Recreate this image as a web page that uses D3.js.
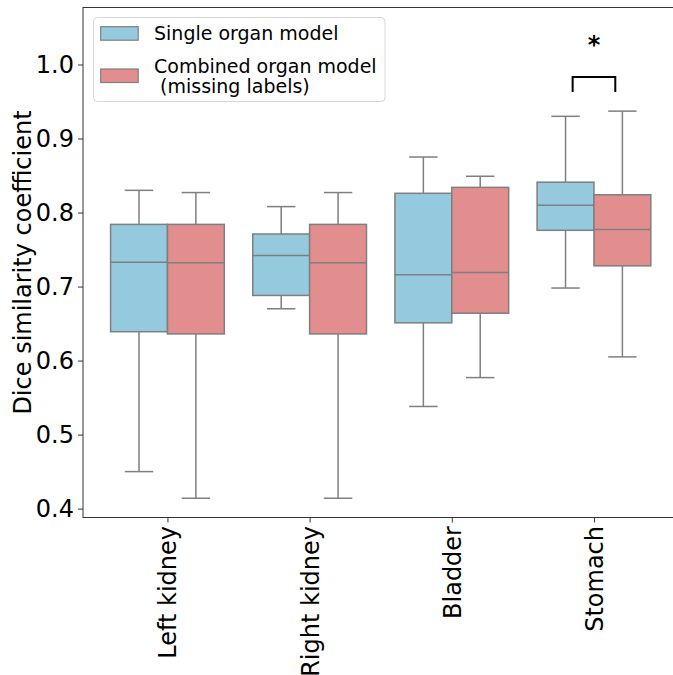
<!DOCTYPE html>
<html>
<head>
<meta charset="utf-8">
<script src="https://cdn.jsdelivr.net/npm/d3@7"></script>
<style>
  body { margin: 0; background: #fff; }
  text { font-family: "DejaVu Sans", sans-serif; }
</style>
</head>
<body>
<div id="main"></div>
<script>
const W = 673, H = 675;

// data: [low whisker, Q1, median, Q3, high whisker]
const organs = ["Left kidney", "Right kidney", "Bladder", "Stomach"];
const models = ["Single organ model", "Combined organ model\n (missing labels)"];
const singleStats = [
    [0.450, 0.639, 0.733, 0.784, 0.830],
    [0.670, 0.688, 0.742, 0.771, 0.808],
    [0.538, 0.651, 0.716, 0.826, 0.875],
    [0.698, 0.776, 0.810, 0.841, 0.930]
];
const combinedStats = [
    [0.414, 0.636, 0.732, 0.784, 0.827],
    [0.414, 0.636, 0.732, 0.784, 0.827],
    [0.577, 0.664, 0.719, 0.834, 0.849],
    [0.605, 0.728, 0.777, 0.824, 0.937]
];
const yTicks = [0.4, 0.5, 0.6, 0.7, 0.8, 0.9, 1.0];
// significance marker on Stomach: bracket bottom / top, star level
const sigOrgan = 3, sigLow = 0.963, sigHigh = 0.983, sigStar = 1.015;

const colors = ["#94c9de", "#e28e8e"];
const edge = "#7f7f7f";

const margin = { left: 83, top: 7.5, bottom: 517.5 };

const x = d3.scaleLinear().domain([-0.594, 3.57]).range([margin.left, 675]);
const y = d3.scaleLinear().domain([0.388, 1.077]).range([margin.bottom, margin.top]);

const svg = d3.select("#main").append("svg")
    .attr("width", W)
    .attr("height", H);

const boxW = 0.4;
const series = [singleStats, combinedStats];

series.forEach((stats, si) => {
    const g = svg.append("g").attr("class", "series-" + si);
    const offset = si === 0 ? -0.2 : 0.2;
    const boxes = g.selectAll("g.box")
        .data(stats.map((s, i) => ({ i: i, s: s })))
        .enter().append("g")
        .attr("class", "box");

    const cx = d => x(d.i + offset);
    const capHalf = (x(boxW / 4) - x(0));

    // whiskers
    boxes.append("line")
        .attr("x1", cx).attr("x2", cx)
        .attr("y1", d => y(d.s[0])).attr("y2", d => y(d.s[1]))
        .attr("stroke", edge).attr("stroke-width", 1.5);
    boxes.append("line")
        .attr("x1", cx).attr("x2", cx)
        .attr("y1", d => y(d.s[3])).attr("y2", d => y(d.s[4]))
        .attr("stroke", edge).attr("stroke-width", 1.5);
    // caps
    [0, 4].forEach(k => {
        boxes.append("line")
            .attr("x1", d => cx(d) - capHalf).attr("x2", d => cx(d) + capHalf)
            .attr("y1", d => y(d.s[k])).attr("y2", d => y(d.s[k]))
            .attr("stroke", edge).attr("stroke-width", 1.5);
    });
    // box
    boxes.append("rect")
        .attr("x", d => x(d.i + offset - boxW / 2))
        .attr("width", x(boxW) - x(0))
        .attr("y", d => y(d.s[3]))
        .attr("height", d => y(d.s[1]) - y(d.s[3]))
        .attr("fill", colors[si])
        .attr("stroke", edge).attr("stroke-width", 1.5);
    // median
    boxes.append("line")
        .attr("x1", d => x(d.i + offset - boxW / 2)).attr("x2", d => x(d.i + offset + boxW / 2))
        .attr("y1", d => y(d.s[2])).attr("y2", d => y(d.s[2]))
        .attr("stroke", edge).attr("stroke-width", 1.5);
});

// significance bracket
const bx0 = x(sigOrgan - 0.15), bx1 = x(sigOrgan + 0.15);
svg.append("path")
    .attr("d", `M${bx0},${y(sigLow)}V${y(sigHigh)}H${bx1}V${y(sigLow)}`)
    .attr("fill", "none")
    .attr("stroke", "#000")
    .attr("stroke-width", 2);
svg.append("text")
    .attr("x", x(sigOrgan))
    .attr("y", y(sigStar))
    .attr("text-anchor", "middle")
    .style("font-size", "24px")
    .style("font-weight", "bold")
    .text("*");

// axes
const yAxis = svg.append("g")
    .attr("transform", `translate(${margin.left},0)`)
    .call(d3.axisLeft(y).tickValues(yTicks).tickFormat(d3.format(".1f")).tickSize(5).tickPadding(4));
yAxis.select(".domain").remove();
yAxis.selectAll("line").attr("stroke", "#333");
yAxis.selectAll("text").style("font-size", "24px").attr("fill", "#000")
    .style("font-family", "DejaVu Sans");

const xAxis = svg.append("g")
    .attr("transform", `translate(0,${margin.bottom})`)
    .call(d3.axisBottom(x).tickValues(d3.range(organs.length)).tickFormat(i => organs[i]).tickSize(5));
xAxis.select(".domain").remove();
xAxis.selectAll("line").attr("stroke", "#333");
xAxis.selectAll("text")
    .style("font-size", "24px").attr("fill", "#000")
    .style("font-family", "DejaVu Sans")
    .attr("transform", "rotate(-90)")
    .attr("x", -8.5).attr("y", 0).attr("dy", "0.35em")
    .attr("text-anchor", "end");

// spines
svg.append("rect")
    .attr("x", margin.left).attr("y", margin.top)
    .attr("width", 675 - margin.left).attr("height", margin.bottom - margin.top)
    .attr("fill", "none").attr("stroke", "#333").attr("stroke-width", 1);

// y label
svg.append("text")
    .attr("transform", `translate(31,${(margin.top + margin.bottom) / 2}) rotate(-90)`)
    .attr("text-anchor", "middle")
    .style("font-size", "24px")
    .text("Dice similarity coefficient");

// legend
const leg = svg.append("g").attr("class", "legend");
leg.append("rect")
    .attr("x", 93.5).attr("y", 17.5).attr("width", 291.5).attr("height", 84)
    .attr("rx", 4)
    .attr("fill", "#fff").attr("fill-opacity", 0.8)
    .attr("stroke", "#d6d6d6");
const legRows = [33.7, 76];
models.forEach((m, i) => {
    leg.append("rect")
        .attr("x", 100.7).attr("y", legRows[i] - 7)
        .attr("width", 37.5).attr("height", 13.5)
        .attr("fill", colors[i]).attr("stroke", edge).attr("stroke-width", 1.2);
    const lines = m.split("\n");
    const t = leg.append("text")
        .attr("x", 154)
        .attr("y", legRows[i] + 6.5 - (lines.length - 1) * 10)
        .style("font-size", "19px");
    lines.forEach((ln, k) => {
        t.append("tspan")
            .attr("x", 154)
            .attr("dy", k === 0 ? 0 : 20)
            .attr("xml:space", "preserve")
            .style("white-space", "pre")
            .text(ln);
    });
});
</script>
</body>
</html>
